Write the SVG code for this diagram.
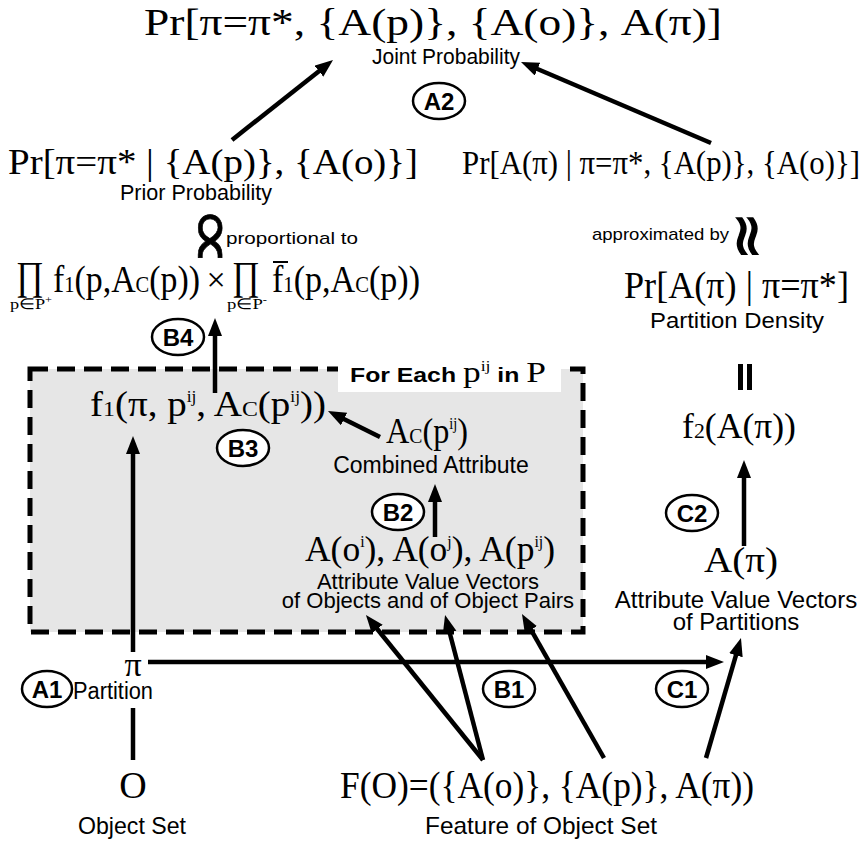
<svg xmlns="http://www.w3.org/2000/svg" width="867" height="844" viewBox="0 0 867 844">
<defs>
<marker id="ah" markerUnits="userSpaceOnUse" markerWidth="20" markerHeight="16" refX="2" refY="7" orient="auto">
<path d="M0,0 L18,7 L0,14 z" fill="#000"/>
</marker>
</defs>
<style>
.s{font-family:"Liberation Serif","Times New Roman",serif;fill:#000}
.h{font-family:"Liberation Sans",Arial,sans-serif;fill:#000}
.m{text-anchor:middle}
.lb{font-family:"Liberation Sans",Arial,sans-serif;font-weight:bold;font-size:24px;text-anchor:middle;fill:#000}
.el{fill:#fff;stroke:#000;stroke-width:2.5}
.ar{stroke:#000;stroke-width:4.5;fill:none;marker-end:url(#ah)}
.ln{stroke:#000;stroke-width:4.5;fill:none}
.sym{font-family:"DejaVu Sans",sans-serif;fill:#000;stroke:#000;text-anchor:middle}
</style>
<rect width="867" height="844" fill="#fff"/>

<g id="loop-box">
<rect x="30" y="369" width="553" height="263" fill="#e6e6e6" stroke="#000" stroke-width="5" stroke-dasharray="18 9"/>
<rect x="338" y="356" width="223" height="36" fill="#fff"/>
<text x="350" y="382" textLength="196" lengthAdjust="spacingAndGlyphs"><tspan class="h" font-weight="bold" font-size="21">For Each </tspan><tspan class="s" font-size="30">p</tspan><tspan class="s" font-size="15" dy="-11">ij</tspan><tspan class="h" font-weight="bold" font-size="21" dy="11"> in </tspan><tspan class="s" font-size="30">P</tspan></text>
</g>

<g id="connectors">
<line class="ar" x1="232" y1="140" x2="320.5" y2="69.9"/>
<line class="ar" x1="711" y1="143" x2="535.7" y2="68.3"/>
<line class="ar" x1="215" y1="393" x2="215" y2="334"/>
<line class="ar" x1="380" y1="437" x2="342.3" y2="418.2"/>
<line class="ar" x1="435" y1="537" x2="435" y2="500"/>
<line class="ar" x1="133" y1="652" x2="133" y2="452"/>
<line class="ar" x1="148" y1="662" x2="708" y2="662"/>
<line class="ln" x1="133" y1="708" x2="133" y2="760"/>
<line class="ar" x1="483" y1="760" x2="376" y2="627.5"/>
<line class="ar" x1="483" y1="760" x2="449.1" y2="630.5"/>
<line class="ar" x1="604" y1="758" x2="529.9" y2="627.9"/>
<line class="ar" x1="706" y1="758" x2="736.5" y2="653.4"/>
<line class="ar" x1="744" y1="546" x2="744" y2="476"/>
</g>

<g id="joint">
<text class="s" x="144" y="35" font-size="38" textLength="578" lengthAdjust="spacingAndGlyphs">Pr[π=π*, {A(p)}, {A(o)}, A(π)]</text>
<text class="h" x="372" y="64" font-size="22" textLength="148" lengthAdjust="spacingAndGlyphs">Joint Probability</text>
</g>

<g id="prior">
<text class="s" x="8" y="174" font-size="36" textLength="410" lengthAdjust="spacingAndGlyphs">Pr[π=π* | {A(p)}, {A(o)}]</text>
<text class="h m" x="196" y="200" font-size="22" textLength="152" lengthAdjust="spacingAndGlyphs">Prior Probability</text>
</g>

<g id="likelihood">
<text class="s" x="462" y="174" font-size="34" textLength="398" lengthAdjust="spacingAndGlyphs">Pr[A(π) | π=π*, {A(p)}, {A(o)}]</text>
</g>

<g id="proportional">
<text class="sym" font-size="64" stroke-width="0.6" transform="translate(210,236) rotate(90) scale(1.35,1)" dy="0.3em">∝</text>
<text class="h" x="226" y="244" font-size="17" textLength="132" lengthAdjust="spacingAndGlyphs">proportional to</text>
</g>

<g id="product">
<text class="s m" x="30" y="289" font-size="40" textLength="28" lengthAdjust="spacingAndGlyphs">∏</text>
<text class="s m" x="31" y="309" font-size="15" textLength="42" lengthAdjust="spacingAndGlyphs">p∈P<tspan font-size="10" dy="-6">+</tspan></text>
<text class="s" x="53" y="292" font-size="38" textLength="147" lengthAdjust="spacingAndGlyphs">f<tspan font-size="23">1</tspan>(p,A<tspan font-size="23">C</tspan>(p))</text>
<text class="s m" x="216" y="291" font-size="34">×</text>
<text class="s m" x="246" y="289" font-size="40" textLength="28" lengthAdjust="spacingAndGlyphs">∏</text>
<text class="s m" x="247" y="309" font-size="15" textLength="40" lengthAdjust="spacingAndGlyphs">p∈P<tspan font-size="10" dy="-6">-</tspan></text>
<text class="s" x="272" y="292" font-size="38" textLength="148" lengthAdjust="spacingAndGlyphs">f<tspan font-size="23">1</tspan>(p,A<tspan font-size="23">C</tspan>(p))</text>
<line x1="273" y1="262" x2="288" y2="262" stroke="#000" stroke-width="2"/>
</g>

<g id="approx">
<text class="h" x="592" y="240" font-size="17" textLength="137" lengthAdjust="spacingAndGlyphs">approximated by</text>
<text class="sym" font-size="58" stroke-width="1.5" transform="translate(750,236) rotate(90)" dy="0.36em">≈</text>
</g>

<g id="density">
<text class="s" x="624" y="298" font-size="38" textLength="225" lengthAdjust="spacingAndGlyphs">Pr[A(π) | π=π*]</text>
<text class="h" x="650" y="328" font-size="22" textLength="174" lengthAdjust="spacingAndGlyphs">Partition Density</text>
<rect x="738" y="364" width="5" height="26" fill="#000"/>
<rect x="747" y="364" width="5" height="26" fill="#000"/>
</g>

<g id="f2">
<text class="s" x="682" y="438" font-size="36" textLength="114" lengthAdjust="spacingAndGlyphs">f<tspan font-size="22">2</tspan>(A(π))</text>
</g>

<g id="api">
<text class="s" x="704" y="572" font-size="36" textLength="74" lengthAdjust="spacingAndGlyphs">A(π)</text>
<text class="h m" x="736" y="608" font-size="24">Attribute Value Vectors</text>
<text class="h m" x="736" y="630" font-size="24">of Partitions</text>
</g>

<g id="f1">
<text class="s" x="90" y="416" font-size="36" textLength="236" lengthAdjust="spacingAndGlyphs">f<tspan font-size="22">1</tspan>(π, p<tspan font-size="16" dy="-14">ij</tspan><tspan dy="14">, A</tspan><tspan font-size="22">C</tspan>(p<tspan font-size="16" dy="-14">ij</tspan><tspan dy="14">))</tspan></text>
</g>

<g id="combined">
<text class="s" x="386" y="443" font-size="36" textLength="82" lengthAdjust="spacingAndGlyphs">A<tspan font-size="22">C</tspan>(p<tspan font-size="16" dy="-14">ij</tspan><tspan dy="14">)</tspan></text>
<text class="h m" x="431" y="473" font-size="23">Combined Attribute</text>
</g>

<g id="attrs">
<text class="s" x="305" y="561" font-size="36" textLength="250" lengthAdjust="spacingAndGlyphs">A(o<tspan font-size="16" dy="-14">i</tspan><tspan dy="14">), A(o</tspan><tspan font-size="16" dy="-14">j</tspan><tspan dy="14">), A(p</tspan><tspan font-size="16" dy="-14">ij</tspan><tspan dy="14">)</tspan></text>
<text class="h m" x="428" y="589" font-size="22">Attribute Value Vectors</text>
<text class="h m" x="428" y="608" font-size="22">of Objects and of Object Pairs</text>
</g>

<g id="partition">
<text class="s m" x="133" y="676" font-size="34">π</text>
<text class="h" x="73" y="699" font-size="23" textLength="80" lengthAdjust="spacingAndGlyphs">Partition</text>
</g>

<g id="objectset">
<text class="s m" x="133" y="798" font-size="38">O</text>
<text class="h m" x="132" y="834" font-size="24" textLength="108" lengthAdjust="spacingAndGlyphs">Object Set</text>
</g>

<g id="feature">
<text class="s" x="340" y="798" font-size="38" textLength="414" lengthAdjust="spacingAndGlyphs">F(O)=({A(o)}, {A(p)}, A(π))</text>
<text class="h m" x="541" y="834" font-size="24" textLength="232" lengthAdjust="spacingAndGlyphs">Feature of Object Set</text>
</g>

<g id="label-A2"><ellipse class="el" cx="439" cy="101" rx="26" ry="18"/><text class="lb" x="439" y="110">A2</text></g>
<g id="label-B4"><ellipse class="el" cx="178" cy="337" rx="26" ry="18"/><text class="lb" x="178" y="346">B4</text></g>
<g id="label-B3"><ellipse class="el" cx="243" cy="448" rx="26" ry="18"/><text class="lb" x="243" y="457">B3</text></g>
<g id="label-B2"><ellipse class="el" cx="398" cy="512" rx="26" ry="18"/><text class="lb" x="398" y="521">B2</text></g>
<g id="label-C2"><ellipse class="el" cx="692" cy="513" rx="26" ry="18"/><text class="lb" x="692" y="522">C2</text></g>
<g id="label-A1"><ellipse class="el" cx="47" cy="689" rx="25" ry="18"/><text class="lb" x="47" y="698">A1</text></g>
<g id="label-B1"><ellipse class="el" cx="509" cy="689" rx="26" ry="18"/><text class="lb" x="509" y="698">B1</text></g>
<g id="label-C1"><ellipse class="el" cx="682" cy="689" rx="26" ry="18"/><text class="lb" x="682" y="698">C1</text></g>
</svg>
